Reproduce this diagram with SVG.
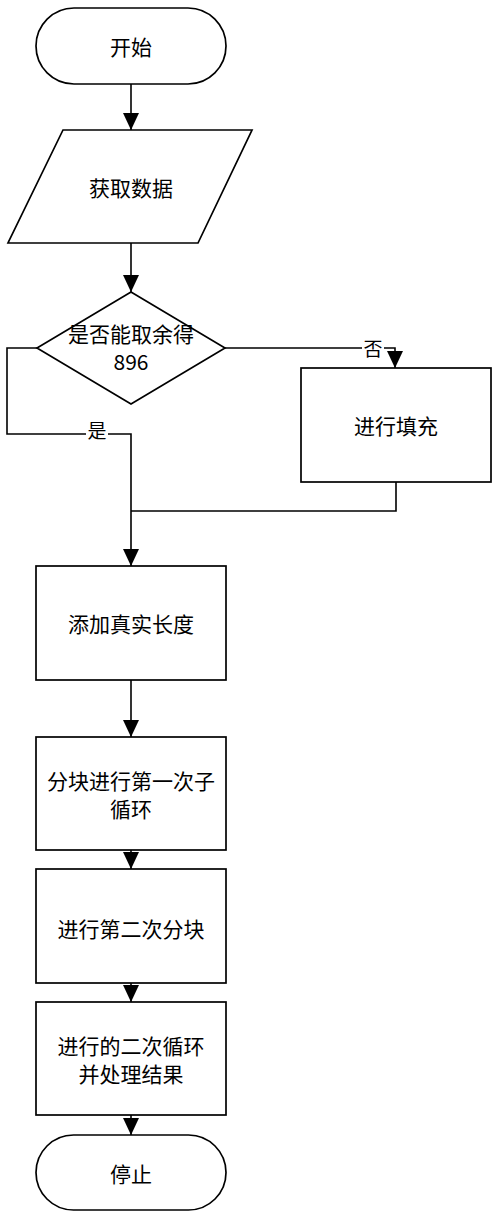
<svg xmlns="http://www.w3.org/2000/svg" width="500" height="1219" viewBox="0 0 500 1219">
<style>
.shape{fill:#fff;stroke:#000;stroke-width:1.7}
.conn{fill:none;stroke:#000;stroke-width:1.6}
.t{font-family:"Noto Sans CJK SC","Microsoft YaHei",sans-serif;font-size:21px;fill:#000;text-anchor:middle;dominant-baseline:central}
.lbl{font-family:"Noto Sans CJK SC",sans-serif;font-size:19px;fill:#000;text-anchor:middle;dominant-baseline:central}
</style>
<defs>
<marker id="arr" markerUnits="userSpaceOnUse" markerWidth="17" markerHeight="16" refX="17" refY="8" orient="auto" viewBox="0 0 17 16">
<path d="M0,0 L17,8 L0,16 z" fill="#000"/>
</marker>
</defs>
<rect width="500" height="1219" fill="#fff"/>
<g id="connectors">
<line class="conn" x1="131" y1="84" x2="131" y2="130" marker-end="url(#arr)"/>
<line class="conn" x1="131" y1="243" x2="131" y2="292" marker-end="url(#arr)"/>
<polyline class="conn" points="225,348 395,348 395,368" marker-end="url(#arr)"/>
<polyline class="conn" points="37,348 7,348 7,434 131,434 131,566" marker-end="url(#arr)"/>
<polyline class="conn" points="396,482 396,511 131,511"/>
<line class="conn" x1="131" y1="680" x2="131" y2="737" marker-end="url(#arr)"/>
<line class="conn" x1="131" y1="850" x2="131" y2="869" marker-end="url(#arr)"/>
<line class="conn" x1="131" y1="983" x2="131" y2="1002" marker-end="url(#arr)"/>
<line class="conn" x1="131" y1="1115" x2="131" y2="1135" marker-end="url(#arr)"/>
<rect x="362" y="338" width="22" height="20" fill="#fff"/>
<text class="lbl" x="373" y="347">否</text>
<rect x="86" y="420" width="22" height="20" fill="#fff"/>
<text class="lbl" x="97" y="429">是</text>
</g>
<g id="start">
<rect class="shape" x="36" y="8" width="190" height="76" rx="38" ry="38"/>
<text class="t" x="131" y="46">开始</text>
</g>
<g id="getdata">
<polygon class="shape" points="63,130 252,130 198,243 8,243"/>
<text class="t" x="131" y="187">获取数据</text>
</g>
<g id="decision">
<polygon class="shape" points="131,292 225,348 131,404 37,348"/>
<text class="t" x="131" y="333">是否能取余得</text>
<text class="t" x="131" y="361">896</text>
</g>
<g id="fill">
<rect class="shape" x="301" y="368" width="190" height="114"/>
<text class="t" x="396" y="425">进行填充</text>
</g>
<g id="addlen">
<rect class="shape" x="36" y="566" width="190" height="114"/>
<text class="t" x="131" y="623">添加真实长度</text>
</g>
<g id="block1">
<rect class="shape" x="36" y="737" width="190" height="113"/>
<text class="t" x="131" y="780">分块进行第一次子</text>
<text class="t" x="131" y="808">循环</text>
</g>
<g id="block2">
<rect class="shape" x="36" y="869" width="190" height="114"/>
<text class="t" x="131" y="928">进行第二次分块</text>
</g>
<g id="loop2">
<rect class="shape" x="36" y="1002" width="190" height="113"/>
<text class="t" x="131" y="1045">进行的二次循环</text>
<text class="t" x="131" y="1073">并处理结果</text>
</g>
<g id="stop">
<rect class="shape" x="36" y="1135" width="190" height="75" rx="37.5" ry="37.5"/>
<text class="t" x="131" y="1173">停止</text>
</g>
</svg>
